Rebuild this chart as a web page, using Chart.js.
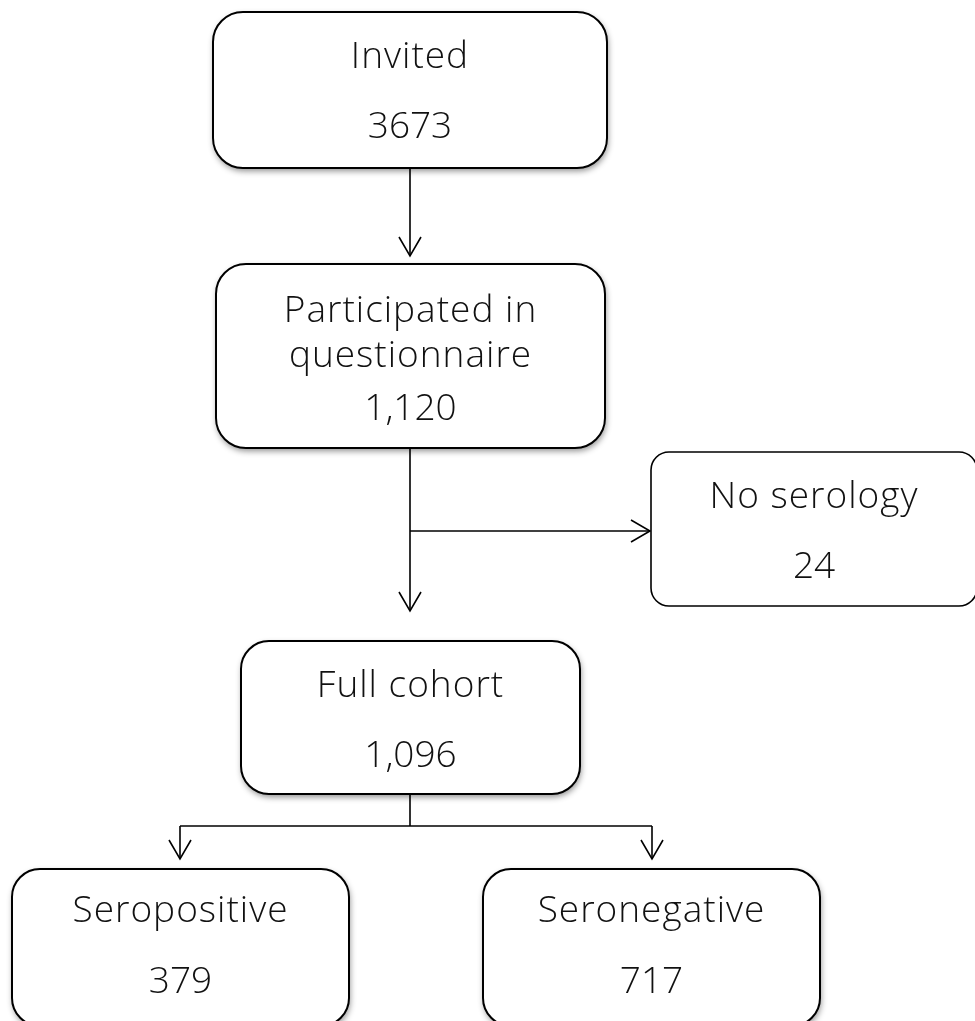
<!DOCTYPE html>
<html>
<head>
<meta charset="utf-8">
<script src="https://cdn.jsdelivr.net/npm/chart.js@4"></script>
<style>
    html, body { margin: 0; padding: 0; background: #fff; overflow: hidden; }
    canvas { display: block; }
</style>
</head>
<body>
<canvas id="flowChart" width="975" height="1021"></canvas>
<script>
// ==================== 数据 ====================
const stageTitles = [
    ['Invited'],
    ['Participated in', 'questionnaire'],
    ['No serology'],
    ['Full cohort'],
    ['Seropositive'],
    ['Seronegative']
];
const stageCounts = ['3673', '1,120', '24', '1,096', '379', '717'];

// ==================== 布局 (坐标单位 = 像素) ====================
// [left, top, right, bottom, radius, shadow]
const boxes = [
    [213, 12, 607, 168, 30, true],
    [216, 264, 605, 448, 30, true],
    [651, 452, 977, 606, 18, false],
    [241, 641, 580, 794, 28, true],
    [12, 869, 349, 1026, 28, true],
    [483, 869, 820, 1026, 28, true]
];
// 文本基线: 每行标题 + 数字
const titleBaselines = [[68], [322, 367], [508], [697], [922], [922]];
const countBaselines = [138, 420, 578, 767, 993, 993];

// 连接线 (折线)
const connectors = [
    [[410, 168], [410, 256]],
    [[410, 448], [410, 611]],
    [[410, 531], [650, 531]],
    [[410, 794], [410, 826]],
    [[180, 826], [652, 826]],
    [[180, 826], [180, 859]],
    [[652, 826], [652, 859]]
];
// 箭头 [tipX, tipY, 方向]
const arrows = [
    [410, 256, 'down'],
    [410, 611, 'down'],
    [650, 531, 'right'],
    [180, 859, 'down'],
    [652, 859, 'down']
];

function arrowPoints(a) {
    const [x, y, dir] = a;
    const len = 19, half = 11;
    if (dir === 'down') {
        return [{ x: x - half, y: y - len }, { x: x, y: y }, { x: x + half, y: y - len }];
    }
    return [{ x: x - len, y: y - half }, { x: x, y: y }, { x: x - len, y: y + half }];
}

const lineStyle = {
    type: 'line',
    borderColor: '#000',
    borderWidth: 1.6,
    pointRadius: 0,
    fill: false,
    clip: false
};

const datasets = [];
connectors.forEach(c => {
    datasets.push(Object.assign({}, lineStyle, { data: c.map(p => ({ x: p[0], y: p[1] })) }));
});
arrows.forEach(a => {
    datasets.push(Object.assign({}, lineStyle, { data: arrowPoints(a) }));
});

// ==================== 方框绘制插件 ====================
const boxPlugin = {
    id: 'flowBoxes',
    afterDatasetsDraw(chart) {
        const ctx = chart.ctx;
        const xs = chart.scales.x, ys = chart.scales.y;
        boxes.forEach((b, i) => {
            const l = xs.getPixelForValue(b[0]);
            const r = xs.getPixelForValue(b[2]);
            const t = ys.getPixelForValue(b[1]);
            const btm = ys.getPixelForValue(b[3]);
            ctx.save();
            ctx.beginPath();
            ctx.roundRect(l, t, r - l, btm - t, b[4]);
            if (b[5]) {
                ctx.shadowColor = 'rgba(0,0,0,0.45)';
                ctx.shadowBlur = 6;
                ctx.shadowOffsetX = 1;
                ctx.shadowOffsetY = 3;
            }
            ctx.fillStyle = '#fff';
            ctx.fill();
            ctx.shadowColor = 'transparent';
            ctx.lineWidth = b[5] ? 2 : 1.6;
            ctx.strokeStyle = '#000';
            ctx.stroke();

            // 文本
            const cx = (l + r) / 2;
            ctx.fillStyle = '#111';
            ctx.font = "300 37px 'Open Sans', sans-serif";
            ctx.textAlign = 'center';
            ctx.textBaseline = 'alphabetic';
            ctx.letterSpacing = '1px';
            stageTitles[i].forEach((line, j) => {
                ctx.fillText(line, cx, ys.getPixelForValue(titleBaselines[i][j]));
            });
            ctx.letterSpacing = '0px';
            ctx.fillText(stageCounts[i], cx, ys.getPixelForValue(countBaselines[i]));
            ctx.restore();
        });
    }
};

new Chart(document.getElementById('flowChart'), {
    type: 'scatter',
    data: { datasets: datasets },
    options: {
        responsive: false,
        animation: false,
        layout: { padding: 0 },
        plugins: {
            legend: { display: false },
            tooltip: { enabled: false }
        },
        scales: {
            x: { type: 'linear', min: 0, max: 975, display: false },
            y: { type: 'linear', min: 0, max: 1021, reverse: true, display: false }
        }
    },
    plugins: [boxPlugin]
});
</script>
</body>
</html>
